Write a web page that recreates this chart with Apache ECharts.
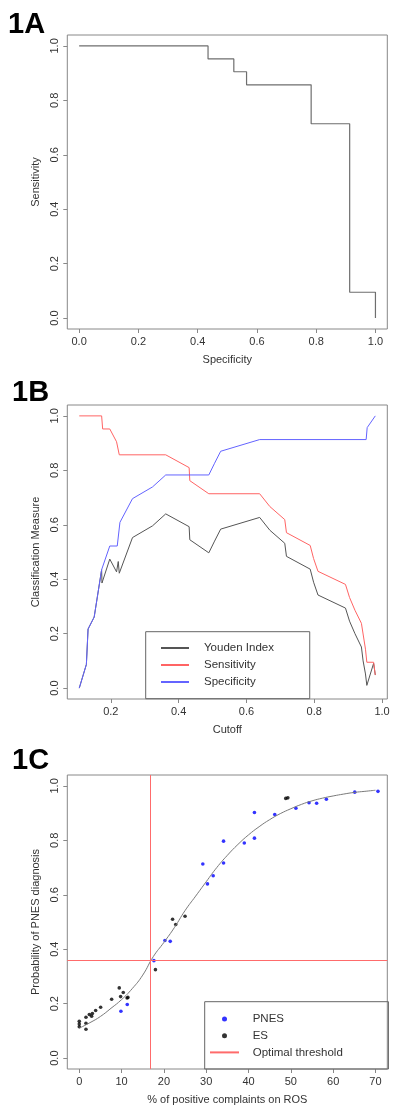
<!DOCTYPE html>
<html>
<head>
<meta charset="utf-8">
<script src="https://cdn.jsdelivr.net/npm/echarts@6/dist/echarts.min.js"></script>
<style>
html,body{margin:0;padding:0;background:#fff;}
#chart{width:400px;height:1117px;}
</style>
</head>
<body>
<div id="chart"></div>
<script>
// ---------- Panel 1A: ROC curve (step vertices) ----------
const rocSpecificity = [0, 0.435, 0.522, 0.565, 0.783, 0.913, 1.0];
const rocSensitivity = [1, 0.952, 0.905, 0.857, 0.714, 0.095, 0];

// ---------- Panel 1B: classification measures vs cutoff ----------
const youdenCut = [0.107,0.128,0.133,0.151,0.173,0.174,0.197,0.217,0.222,0.225,0.264,0.323,0.362,0.431,0.433,0.489,0.506,0.524,0.639,0.669,0.713,0.718,0.788,0.798,0.811,0.892,0.904,0.920,0.939,0.944,0.951,0.955,0.975,0.980];
const youdenVal = [0,0.087,0.217,0.261,0.435,0.386,0.474,0.427,0.465,0.422,0.553,0.596,0.640,0.593,0.545,0.497,0.540,0.584,0.627,0.580,0.532,0.484,0.437,0.389,0.342,0.294,0.246,0.200,0.151,0.100,0.052,0.010,0.091,0.048];
const sensCut = [0.107,0.173,0.176,0.197,0.217,0.222,0.225,0.362,0.431,0.433,0.489,0.639,0.669,0.713,0.718,0.788,0.798,0.811,0.892,0.904,0.920,0.939,0.951,0.955,0.975,0.980];
const sensVal = [1,1,0.952,0.952,0.905,0.905,0.857,0.857,0.810,0.762,0.714,0.714,0.667,0.619,0.571,0.524,0.476,0.429,0.381,0.333,0.286,0.238,0.143,0.095,0.095,0.048];
const specCut = [0.107,0.128,0.133,0.151,0.173,0.197,0.219,0.227,0.264,0.323,0.362,0.489,0.506,0.524,0.639,0.953,0.956,0.980];
const specVal = [0,0.087,0.217,0.261,0.435,0.522,0.522,0.609,0.696,0.739,0.783,0.783,0.826,0.870,0.913,0.913,0.957,1.0];

// ---------- Panel 1C: logistic fit and observations ----------
const curveX = [0,2.5,5,7.5,10,12.5,15,17.5,20,22.5,25,27.5,30,32.5,35,37.5,40,42.5,45,47.5,50,52.5,55,57.5,60,62.5,65,67.5,70];
const curveY = [0.110,0.130,0.153,0.183,0.215,0.255,0.305,0.373,0.425,0.480,0.542,0.595,0.648,0.700,0.745,0.785,0.820,0.850,0.876,0.898,0.916,0.932,0.945,0.955,0.963,0.970,0.976,0.980,0.984];
const pnesX = [9.84,11.34,17.64,20.24,21.5,29.2,30.3,31.65,34.1,34.1,39.0,41.4,41.4,46.2,51.2,54.3,56.1,58.4,65.1,70.6];
const pnesY = [0.172,0.197,0.358,0.432,0.429,0.713,0.640,0.670,0.797,0.717,0.790,0.902,0.808,0.895,0.918,0.938,0.936,0.951,0.977,0.980];
const esX = [0,0,0,1.58,1.58,1.58,2.37,2.92,3.1,3.87,5.05,7.65,9.45,9.77,10.4,11.3,11.5,18.0,22.05,22.8,25.0,48.8,49.3];
const esY = [0.135,0.125,0.115,0.150,0.128,0.106,0.160,0.154,0.164,0.175,0.187,0.216,0.258,0.226,0.241,0.221,0.223,0.325,0.510,0.491,0.521,0.954,0.956];
const thresholdX = 16.86;
const thresholdY = 0.358;

// ---------- tick labels ----------
const unitTicks = [0, 0.2, 0.4, 0.6, 0.8, 1.0];
const cutoffTicks = [0.2, 0.4, 0.6, 0.8, 1.0];
const rosTicks = [0, 10, 20, 30, 40, 50, 60, 70];

const zip = (a, b) => a.map((v, i) => [v, b[i]]);

const FONT = 'Liberation Sans, Arial, sans-serif';
const TXT = '#333';
const BOX = '#888';

function xAx(gi, min, max, ticks, name, fmt) {
  return {
    gridIndex: gi, type: 'value', min: min, max: max,
    axisLine: {show: false, onZero: false}, splitLine: {show: false},
    axisTick: {show: true, length: 4, customValues: ticks, lineStyle: {color: BOX}},
    axisLabel: {customValues: ticks, fontSize: 11, color: TXT, fontFamily: FONT, margin: 7, formatter: fmt},
    name: name, nameLocation: 'middle', nameGap: 25,
    nameTextStyle: {fontSize: 11, color: TXT, fontFamily: FONT}
  };
}
function yAx(gi, name) {
  return {
    gridIndex: gi, type: 'value', min: -0.04, max: 1.04,
    axisLine: {show: false, onZero: false}, splitLine: {show: false},
    axisTick: {show: true, length: 4, customValues: unitTicks, lineStyle: {color: BOX}},
    axisLabel: {customValues: unitTicks, rotate: 90, fontSize: 11, color: TXT, fontFamily: FONT, margin: 7,
      formatter: v => v.toFixed(1)},
    name: name, nameLocation: 'middle', nameGap: 26,
    nameTextStyle: {fontSize: 11, color: TXT, fontFamily: FONT}
  };
}
const f1 = v => v.toFixed(1);
const f0 = v => String(Math.round(v));

const gridBase = {left: 67.3, width: 320, height: 294, show: true, borderColor: BOX, borderWidth: 1, containLabel: false};
const hideSym = {opacity: 0};

const chart = echarts.init(document.getElementById('chart'), null, {renderer: 'canvas'});
chart.setOption({
  animation: false,
  backgroundColor: '#fff',
  title: [
    {text: '1A', left: 8, top: 10, padding: 0, textStyle: {fontSize: 29, fontWeight: 'bold', color: '#000', fontFamily: FONT}},
    {text: '1B', left: 12, top: 378, padding: 0, textStyle: {fontSize: 29, fontWeight: 'bold', color: '#000', fontFamily: FONT}},
    {text: '1C', left: 12, top: 746, padding: 0, textStyle: {fontSize: 29, fontWeight: 'bold', color: '#000', fontFamily: FONT}}
  ],
  grid: [
    Object.assign({top: 35}, gridBase),
    Object.assign({top: 405}, gridBase),
    Object.assign({top: 775}, gridBase)
  ],
  xAxis: [
    xAx(0, -0.04, 1.04, unitTicks, 'Specificity', f1),
    xAx(1, 0.07175, 1.01535, cutoffTicks, 'Cutoff', f1),
    xAx(2, -2.83, 72.8, rosTicks, '% of positive complaints on ROS', f0)
  ],
  yAxis: [
    yAx(0, 'Sensitivity'),
    yAx(1, 'Classification Measure'),
    yAx(2, 'Probability of PNES diagnosis')
  ],
  legend: [
    {
      orient: 'vertical', left: 145.7, top: 631.7,
      padding: [10.3, 35.8, 10.7, 14.3],
      itemWidth: 28, itemHeight: 12, itemGap: 5,
      borderColor: '#666', borderWidth: 1, selectedMode: false,
      itemStyle: hideSym,
      data: ['Youden Index', 'Sensitivity', 'Specificity'],
      textStyle: {fontSize: 11.5, color: TXT, fontFamily: FONT, padding: [0, 0, 0, 10]}
    },
    {
      orient: 'vertical', left: 204.7, top: 1001.7,
      padding: [11.3, 45.6, 10.6, 4.3],
      itemWidth: 29, itemHeight: 5, itemGap: 4.7,
      borderColor: '#666', borderWidth: 1, selectedMode: false,
      data: ['PNES', 'ES', {name: 'Optimal threshold', itemStyle: hideSym}],
      textStyle: {fontSize: 11.5, color: TXT, fontFamily: FONT, padding: [0, 0, 0, 8.7]}
    }
  ],
  series: [
    {
      name: 'ROC', type: 'line', xAxisIndex: 0, yAxisIndex: 0, step: 'end',
      data: zip(rocSpecificity, rocSensitivity), symbol: 'none',
      lineStyle: {color: '#6e6e6e', width: 1.2}, color: '#6e6e6e', silent: true
    },
    {
      name: 'Youden Index', type: 'line', xAxisIndex: 1, yAxisIndex: 1,
      data: zip(youdenCut, youdenVal), symbol: 'none',
      lineStyle: {color: '#555', width: 1}, color: '#555', silent: true
    },
    {
      name: 'Sensitivity', type: 'line', xAxisIndex: 1, yAxisIndex: 1,
      data: zip(sensCut, sensVal), symbol: 'none',
      lineStyle: {color: '#ff6464', width: 1}, color: '#ff6464', silent: true
    },
    {
      name: 'Specificity', type: 'line', xAxisIndex: 1, yAxisIndex: 1,
      data: zip(specCut, specVal), symbol: 'none',
      lineStyle: {color: '#6464ff', width: 1}, color: '#6464ff', silent: true
    },
    {
      name: 'Optimal threshold', type: 'line', xAxisIndex: 2, yAxisIndex: 2,
      data: [], symbol: 'none', color: '#ff6b6b',
      lineStyle: {color: '#ff6b6b', width: 1},
      markLine: {
        silent: true, symbol: ['none', 'none'], label: {show: false},
        lineStyle: {color: '#ff6b6b', width: 1, type: 'solid'},
        emphasis: {disabled: true},
        data: [{xAxis: thresholdX}, {yAxis: thresholdY}]
      }
    },
    {
      name: 'Fit', type: 'line', xAxisIndex: 2, yAxisIndex: 2, smooth: true,
      data: zip(curveX, curveY), symbol: 'none',
      lineStyle: {color: '#7a7a7a', width: 1}, silent: true
    },
    {
      name: 'PNES', type: 'scatter', xAxisIndex: 2, yAxisIndex: 2,
      data: zip(pnesX, pnesY), symbol: 'circle', symbolSize: 3.6,
      itemStyle: {color: '#0000ff'}, silent: true
    },
    {
      name: 'ES', type: 'scatter', xAxisIndex: 2, yAxisIndex: 2,
      data: zip(esX, esY), symbol: 'circle', symbolSize: 3.6,
      itemStyle: {color: '#000'}, silent: true
    }
  ]
});
</script>
</body>
</html>
